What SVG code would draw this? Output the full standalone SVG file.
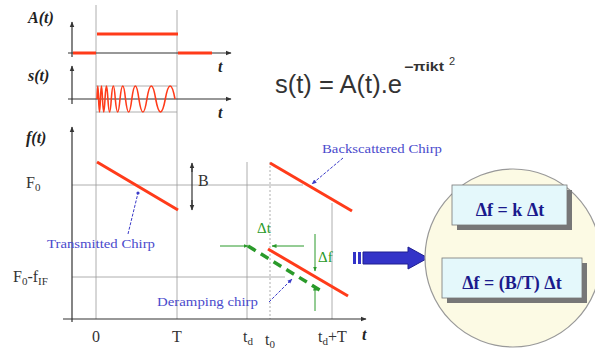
<svg xmlns="http://www.w3.org/2000/svg" width="595" height="350" viewBox="0 0 595 350">
<defs>
<marker id="ax" viewBox="0 0 10 10" refX="9" refY="5" markerWidth="5" markerHeight="5" orient="auto-start-reverse"><path d="M0,1 L10,5 L0,9 z" fill="#333"/></marker>
<marker id="gr" viewBox="0 0 10 10" refX="9" refY="5" markerWidth="5" markerHeight="5" orient="auto"><path d="M0,1 L10,5 L0,9 z" fill="#2a9a2a"/></marker>
<marker id="bl" viewBox="0 0 10 10" refX="9" refY="5" markerWidth="5" markerHeight="5" orient="auto"><path d="M0,1 L10,5 L0,9 z" fill="#3a3ac8"/></marker>
<marker id="dot" viewBox="0 0 10 10" refX="5" refY="5" markerWidth="4" markerHeight="4"><circle cx="5" cy="5" r="4" fill="#3a3ac8"/></marker>
</defs>
<style>
.axis{stroke:#333;stroke-width:1.2;fill:none}
.grid{stroke:#999;stroke-width:0.8;fill:none}
.red{stroke:#ff3b1a;stroke-width:3;fill:none}
.lab{font-family:"Liberation Serif",serif;font-weight:bold;font-style:italic;font-size:16px;fill:#222}
.tick{font-family:"Liberation Serif",serif;font-size:16px;fill:#333}
.blue{font-family:"Liberation Serif",serif;font-size:13px;fill:#4a4acc}
.green{font-family:"Liberation Serif",serif;font-size:15px;fill:#2a9a2a}
.gl{stroke:#2a9a2a;stroke-width:1;fill:none}
.leader{stroke:#3a3ac8;stroke-width:1;stroke-dasharray:3,1.5;fill:none}
.box{fill:#e4f8fb;stroke:#777;stroke-width:0.8}
.shadow{fill:#777}
.btxt{font-family:"Liberation Serif",serif;font-weight:bold;font-size:18px;fill:#1a1a8c;text-anchor:middle}
</style>
<rect width="595" height="350" fill="#fff"/>

<g id="gridlines">
<line class="grid" x1="96" y1="5" x2="96" y2="319"/>
<line class="grid" x1="177" y1="10" x2="177" y2="319"/>
<line class="grid" x1="96" y1="86" x2="177" y2="86"/>
<line class="grid" x1="96" y1="112" x2="177" y2="112"/>
<line class="grid" x1="72" y1="185" x2="303" y2="185"/>
<line class="grid" x1="72" y1="277" x2="285" y2="277"/>
<line class="grid" x1="247" y1="162" x2="247" y2="319"/>
<line class="grid" x1="270" y1="162" x2="270" y2="319" stroke-dasharray="2,2"/>
<line class="grid" x1="332" y1="203" x2="332" y2="319"/>
</g>

<g id="plot-A">
<line class="axis" x1="72" y1="57" x2="72" y2="22" marker-end="url(#ax)"/>
<line class="axis" x1="68" y1="53" x2="231" y2="53" marker-end="url(#ax)"/>
<path class="red" d="M73,53 H96 M97,34 H178 M178,53 H212"/>
<text class="lab" x="28" y="23">A(t)</text>
<text class="lab" x="218" y="72">t</text>
</g>

<g id="plot-s">
<line class="axis" x1="72" y1="104" x2="72" y2="66" marker-end="url(#ax)"/>
<line class="axis" x1="68" y1="99" x2="231" y2="99" marker-end="url(#ax)"/>
<path stroke="#ff3b1a" stroke-width="1.6" fill="none" d="M97,99 Q97.8,73 98.6,99 Q99.5,125 100.4,99 Q101.45,73 102.5,99 Q103.75,125 105,99 Q106.45,73 107.9,99 Q109.6,125 111.3,99 Q113.3,73 115.3,99 Q117.65,125 120,99 Q122.75,73 125.5,99 Q128.65,125 131.8,99 Q135.35,73 138.9,99 Q142.9,125 146.9,99 Q151.3,73 155.7,99 Q160.5,125 165.3,99 Q170.15,73 175,99"/>
<text class="lab" x="28" y="81">s(t)</text>
<text class="lab" x="218" y="118">t</text>
</g>

<g id="formula">
<text font-family="Liberation Sans,Arial,sans-serif" font-size="25" fill="#333" x="275" y="93" textLength="127" lengthAdjust="spacingAndGlyphs">s(t) = A(t).e</text>
<text font-family="Liberation Sans,Arial,sans-serif" font-size="12" font-weight="bold" fill="#333" x="404" y="71" textLength="40" lengthAdjust="spacingAndGlyphs">−πikt</text>
<text font-family="Liberation Sans,Arial,sans-serif" font-size="11" fill="#333" x="449" y="65">2</text>
</g>

<g id="plot-f">
<line class="axis" x1="72" y1="322" x2="72" y2="127" marker-end="url(#ax)"/>
<line class="axis" x1="63" y1="319" x2="366" y2="319" marker-end="url(#ax)"/>
<text class="lab" x="26" y="143">f(t)</text>
<text class="lab" x="362" y="340">t</text>
<text class="tick" x="26" y="188">F<tspan font-size="11" dy="3">0</tspan></text>
<text class="tick" x="13" y="282">F<tspan font-size="11" dy="3">0</tspan><tspan dy="-3">-f</tspan><tspan font-size="11" dy="3">IF</tspan></text>
<text class="tick" x="96" y="342" text-anchor="middle">0</text>
<text class="tick" x="177" y="342" text-anchor="middle">T</text>
<text class="tick" x="243" y="342">t<tspan font-size="11" dy="3">d</tspan></text>
<text class="tick" x="265" y="345">t<tspan font-size="11" dy="3">0</tspan></text>
<text class="tick" x="318" y="342">t<tspan font-size="11" dy="3">d</tspan><tspan dy="-3">+T</tspan></text>
<line class="axis" x1="192" y1="172" x2="192" y2="163" marker-end="url(#ax)"/>
<line class="axis" x1="192" y1="200" x2="192" y2="210" marker-end="url(#ax)"/>
<line class="axis" x1="192" y1="168" x2="192" y2="205"/>
<text class="tick" x="198" y="186">B</text>
</g>

<g id="chirps">
<line class="red" x1="97" y1="162" x2="178" y2="210"/>
<line class="red" x1="270" y1="163" x2="352" y2="211"/>
<line class="red" x1="268" y1="249" x2="348" y2="296"/>
<line stroke="#2a9a2a" stroke-width="3.5" stroke-dasharray="9,6" x1="248" y1="246" x2="323" y2="292"/>
</g>

<g id="deltas">
<line class="gl" x1="220" y1="246" x2="248" y2="246" marker-end="url(#gr)"/>
<line class="gl" x1="304" y1="246" x2="272" y2="246" marker-end="url(#gr)"/>
<text class="green" x="257" y="233">Δt</text>
<line class="gl" x1="315" y1="234" x2="315" y2="271" marker-end="url(#gr)"/>
<line class="gl" x1="315" y1="311" x2="315" y2="286" marker-end="url(#gr)"/>
<text class="green" x="318" y="262">Δf</text>
</g>

<g id="labels">
<text class="blue" x="47" y="248" textLength="108" lengthAdjust="spacingAndGlyphs">Transmitted Chirp</text>
<text class="blue" x="157" y="306" textLength="101" lengthAdjust="spacingAndGlyphs">Deramping chirp</text>
<text class="blue" x="322" y="153" textLength="120" lengthAdjust="spacingAndGlyphs">Backscattered Chirp</text>
</g>

<g id="connectors">
<line class="leader" x1="128" y1="234" x2="138" y2="193" marker-end="url(#dot)"/>
<line class="leader" x1="343" y1="158" x2="312" y2="184" marker-end="url(#bl)"/>
<line class="leader" x1="269" y1="302" x2="292" y2="279" marker-end="url(#bl)"/>
<g id="big-arrow">
<rect x="353" y="252" width="3" height="12" fill="#3333c8"/>
<rect x="358" y="252" width="3" height="12" fill="#3333c8"/>
<path d="M363,252 H408 V247 L428,258 L408,269 V264 H363 z" fill="#3333c8" stroke="#1e1e90" stroke-width="1"/>
</g>
</g>

<g id="result">
<ellipse cx="513" cy="258" rx="88" ry="89" fill="#fcfae4" stroke="#999" stroke-width="1.2"/>
<g id="box1">
<rect class="shadow" x="457" y="190" width="115" height="40"/>
<rect class="box" x="452" y="185" width="115" height="40"/>
<text class="btxt" x="510" y="216">Δf = k Δt</text>
</g>
<g id="box2">
<rect class="shadow" x="447" y="263" width="140" height="40"/>
<rect class="box" x="442" y="258" width="140" height="40"/>
<text class="btxt" x="512" y="289">Δf = (B/T) Δt</text>
</g>
</g>
</svg>
